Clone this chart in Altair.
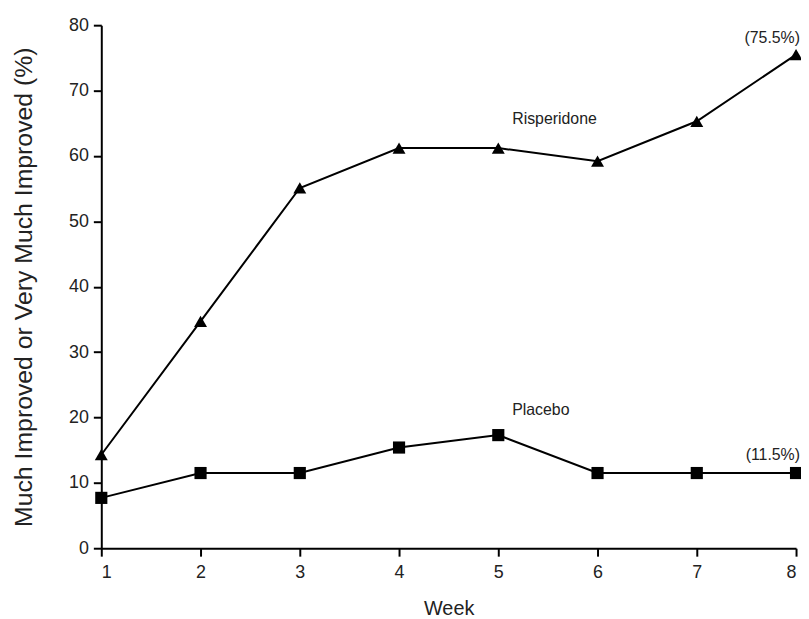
import altair as alt
import pandas as pd

weeks = [1, 2, 3, 4, 5, 6, 7, 8]
risperidone = [14.3, 34.7, 55.1, 61.2, 61.2, 59.2, 65.3, 75.5]
placebo = [7.7, 11.5, 11.5, 15.4, 17.3, 11.5, 11.5, 11.5]
y_ticks = [0, 10, 20, 30, 40, 50, 60, 70, 80]

ann_text = ["Risperidone", "Placebo"]
ann_x = [5.14, 5.14]
ann_y = [65.7, 21.2]
end_text = ["(75.5%)", "(11.5%)"]
end_x = [8.04, 8.04]
end_y = [78.0, 14.3]

FONT = "Liberation Sans"

df = pd.DataFrame({
    "week": weeks * 2,
    "value": risperidone + placebo,
    "group": ["Risperidone"] * 8 + ["Placebo"] * 8,
})
ann = pd.DataFrame({"t": ann_text, "x": ann_x, "y": ann_y})
end = pd.DataFrame({"t": end_text, "x": end_x, "y": end_y})

xs = alt.Scale(domain=[1, 8], nice=False, zero=False)
ys = alt.Scale(domain=[0, 80], nice=False)

xenc = alt.X("week:Q", scale=xs, title="Week",
             axis=alt.Axis(values=weeks, format="d", labelPadding=8,
                           titlePadding=17, titleFontSize=20))
yenc = alt.Y("value:Q", scale=ys, title="Much Improved or Very Much Improved (%)",
             axis=alt.Axis(values=y_ticks, labelPadding=5, titlePadding=32,
                           titleFontSize=25))

lines = alt.Chart(df).mark_line(color="black", strokeWidth=2).encode(
    x=xenc, y=yenc, detail="group:N")

tri = alt.Chart(df).transform_filter(alt.datum.group == "Risperidone").mark_point(
    shape="triangle-up", filled=True, color="black", size=170, opacity=1).encode(
    x=alt.X("week:Q", scale=xs), y=alt.Y("value:Q", scale=ys))

sq = alt.Chart(df).transform_filter(alt.datum.group == "Placebo").mark_point(
    shape="square", filled=True, color="black", size=150, opacity=1).encode(
    x=alt.X("week:Q", scale=xs), y=alt.Y("value:Q", scale=ys))

labels = alt.Chart(ann).mark_text(align="left", baseline="middle", fontSize=16,
                                  font=FONT, color="#222").encode(
    x=alt.X("x:Q", scale=xs), y=alt.Y("y:Q", scale=ys), text="t:N")

ends = alt.Chart(end).mark_text(align="right", baseline="middle", fontSize=16,
                                font=FONT, color="#222").encode(
    x=alt.X("x:Q", scale=xs), y=alt.Y("y:Q", scale=ys), text="t:N")

chart = alt.layer(lines, tri, sq, labels, ends).properties(
    width=700, height=527,
    autosize=alt.AutoSizeParams(type="none"),
    padding={"left": 94, "top": 15, "right": 5, "bottom": 68},
).configure_view(stroke=None).configure_axis(
    grid=False, domainColor="black", domainWidth=2, tickColor="black",
    tickWidth=2, tickSize=8, labelFont=FONT, titleFont=FONT,
    labelFontSize=18, titleFontWeight="normal",
    labelColor="#222", titleColor="#222",
)

chart.save("out.html", embed_options={"renderer": "svg", "actions": False})
